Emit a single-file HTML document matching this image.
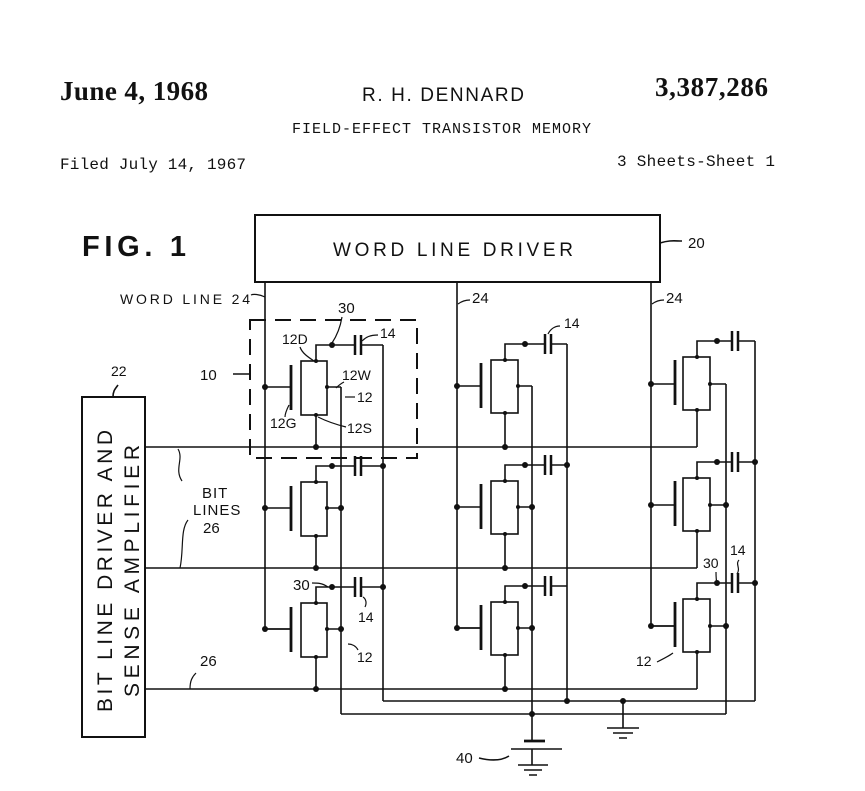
<!DOCTYPE html>
<html><head><meta charset="utf-8"><style>
html,body{margin:0;padding:0;background:#fff}
svg{display:block}
text{font-family:"Liberation Sans",sans-serif;fill:#111}
.m{font-family:"Liberation Mono",monospace}
.s{font-family:"Liberation Serif",serif;font-weight:bold}
</style></head><body>
<svg width="865" height="791" viewBox="0 0 865 791" xmlns="http://www.w3.org/2000/svg" stroke="#111" stroke-width="1.6" fill="none">
<defs>
<g id="c1">
 <path d="M316 361V345H355M361 345H383"/>
 <path d="M355 335v20M361 335v20" stroke-width="2.5"/>
 <rect x="301" y="361" width="26" height="54"/>
 <path d="M291 365v45" stroke-width="2.8"/>
 <path d="M265 387H291M327 387H341M316 415V447"/>
 <circle cx="332" cy="345" r="3" fill="#111" stroke="none"/>
 <circle cx="265" cy="387" r="3" fill="#111" stroke="none"/>
 <circle cx="316" cy="447" r="3" fill="#111" stroke="none"/>
 <circle cx="316" cy="361" r="2" fill="#111" stroke="none"/>
 <circle cx="316" cy="415" r="2" fill="#111" stroke="none"/>
 <circle cx="327" cy="387" r="2" fill="#111" stroke="none"/>
</g>
<g id="c2">
 <path d="M505 360V344H545M551 344H567"/>
 <path d="M545 334v20M551 334v20" stroke-width="2.5"/>
 <rect x="491" y="360" width="27" height="53"/>
 <path d="M481 363v45" stroke-width="2.8"/>
 <path d="M457 386H481M518 386H532M505 413V447"/>
 <circle cx="525" cy="344" r="3" fill="#111" stroke="none"/>
 <circle cx="457" cy="386" r="3" fill="#111" stroke="none"/>
 <circle cx="505" cy="447" r="3" fill="#111" stroke="none"/>
 <circle cx="505" cy="360" r="2" fill="#111" stroke="none"/>
 <circle cx="505" cy="413" r="2" fill="#111" stroke="none"/>
 <circle cx="518" cy="386" r="2" fill="#111" stroke="none"/>
</g>
<g id="c3">
 <path d="M697 357V341H732M738 341H755"/>
 <path d="M732 331v20M738 331v20" stroke-width="2.5"/>
 <rect x="683" y="357" width="27" height="53"/>
 <path d="M675 360v45" stroke-width="2.8"/>
 <path d="M651 384H675M710 384H726M697 410V447"/>
 <circle cx="717" cy="341" r="3" fill="#111" stroke="none"/>
 <circle cx="651" cy="384" r="3" fill="#111" stroke="none"/>
 <circle cx="697" cy="357" r="2" fill="#111" stroke="none"/>
 <circle cx="697" cy="410" r="2" fill="#111" stroke="none"/>
 <circle cx="710" cy="384" r="2" fill="#111" stroke="none"/>
</g>
</defs>

<!-- header -->
<g stroke="none">
<text x="60" y="100" class="s" font-size="27" textLength="148">June 4, 1968</text>
<text x="362" y="101" font-size="19" textLength="163" letter-spacing="1">R. H. DENNARD</text>
<text x="655" y="96" class="s" font-size="27" textLength="113">3,387,286</text>
<text x="292" y="133" class="m" font-size="15" textLength="299">FIELD-EFFECT TRANSISTOR MEMORY</text>
<text x="60" y="169" class="m" font-size="16" textLength="186">Filed July 14, 1967</text>
<text x="617" y="166" class="m" font-size="16" textLength="158">3 Sheets-Sheet 1</text>
<text x="82" y="256" font-size="29" font-weight="bold" textLength="104">FIG. 1</text>
</g>

<!-- word line driver -->
<rect x="255" y="215" width="405" height="67" stroke-width="2"/>
<text x="333" y="256" font-size="19" stroke="none" textLength="240">WORD LINE DRIVER</text>
<path d="M660 243c10 -3 14 -2 22 -2"/>
<text x="688" y="248" font-size="15" stroke="none">20</text>

<!-- bit line driver -->
<rect x="82" y="397" width="63" height="340" stroke-width="2"/>
<text transform="translate(112,712) rotate(-90)" font-size="21" stroke="none" textLength="282">BIT LINE DRIVER AND</text>
<text transform="translate(139,697) rotate(-90)" font-size="21" stroke="none" textLength="252">SENSE AMPLIFIER</text>
<path d="M113 397c0-6 2-8 5-12"/>
<text x="111" y="376" font-size="14" stroke="none">22</text>

<!-- word lines -->
<path d="M265 282V629H291M457 282V628H481M651 282V626H675"/>
<!-- bit lines -->
<path d="M145 447H697M145 568H697M145 689H697"/>
<!-- substrate lines -->
<path d="M341 387V714M532 386V714M726 384V714M341 714H726"/>
<!-- cap lines -->
<path d="M383 345V701M567 344V701M755 341V701M383 701H755"/>

<use href="#c1"/><use href="#c1" y="121"/><use href="#c1" y="242"/>
<use href="#c2"/><use href="#c2" y="121"/><use href="#c2" y="242"/>
<use href="#c3"/><use href="#c3" y="121"/><use href="#c3" y="242"/>

<g fill="#111" stroke="none">
<circle cx="341" cy="508" r="3"/><circle cx="341" cy="629" r="3"/>
<circle cx="532" cy="507" r="3"/><circle cx="532" cy="628" r="3"/>
<circle cx="726" cy="505" r="3"/><circle cx="726" cy="626" r="3"/>
<circle cx="383" cy="466" r="3"/><circle cx="383" cy="587" r="3"/>
<circle cx="567" cy="465" r="3"/><circle cx="567" cy="701" r="3"/>
<circle cx="755" cy="462" r="3"/><circle cx="755" cy="583" r="3"/>
<circle cx="532" cy="714" r="3"/><circle cx="623" cy="701" r="3"/>
</g>

<!-- grounds / battery -->
<path d="M623 701V728M607 728H639M613 733H633M619 738H627"/>
<path d="M532 714V741M532 749V765M518 765H548M524 770H542M529 775H537"/>
<path d="M524 741H545" stroke-width="2.8"/>
<path d="M511 749H562"/>
<path d="M479 758c12 3 22 3 30 -2"/>
<text x="456" y="763" font-size="15" stroke="none">40</text>

<!-- dashed cell box -->
<rect x="250" y="320" width="167" height="138" stroke-width="2" stroke-dasharray="16,9"/>
<path d="M233 374H250"/>
<text x="200" y="380" font-size="15" stroke="none">10</text>

<!-- labels -->
<g stroke="none" font-size="14">
<text x="120" y="304" textLength="130">WORD LINE 24</text>
<text x="338" y="313" font-size="15">30</text>
<text x="282" y="344">12D</text>
<text x="342" y="380">12W</text>
<text x="357" y="402">12</text>
<text x="270" y="428">12G</text>
<text x="347" y="433">12S</text>
<text x="380" y="338">14</text>
<text x="472" y="303" font-size="15">24</text>
<text x="666" y="303" font-size="15">24</text>
<text x="564" y="328">14</text>
<text x="202" y="498" font-size="15" letter-spacing="1">BIT</text>
<text x="193" y="515" font-size="15" letter-spacing="1">LINES</text>
<text x="203" y="533" font-size="15">26</text>
<text x="200" y="666" font-size="15">26</text>
<text x="293" y="590" font-size="15">30</text>
<text x="358" y="622">14</text>
<text x="357" y="662">12</text>
<text x="703" y="568">30</text>
<text x="730" y="555">14</text>
<text x="636" y="666">12</text>
</g>
<g stroke-width="1.2">
<path d="M265 297c-6-3-12-3-14-2"/>
<path d="M342 317c-2 12-6 20-10 26"/>
<path d="M300 347c2 6 8 10 14 14"/>
<path d="M344 382c-4 2-6 4-8 6"/>
<path d="M355 397H345"/>
<path d="M289 405c-2 4-4 8-4 12"/>
<path d="M318 417c8 4 20 8 28 10"/>
<path d="M378 335c-8 0-12 2-16 6"/>
<path d="M458 304c4-3 8-4 12-4"/>
<path d="M652 304c4-3 8-4 12-4"/>
<path d="M560 326c-6 0-10 4-12 8"/>
<path d="M178 449c6 10-4 20 4 32M188 520c-8 10-4 30-8 48"/>
<path d="M190 689c0-8 2-12 6-16"/>
<path d="M312 583c6 0 10 0 16 4"/>
<path d="M363 597c3 2 4 6 2 10"/>
<path d="M348 644c4 0 8 2 10 6"/>
<path d="M716 572c0 6 0 8 1 11"/>
<path d="M739 560c-4 4 2 8-2 14"/>
<path d="M657 662c6-3 12-6 16-9"/>
</g>
</svg>
</body></html>
